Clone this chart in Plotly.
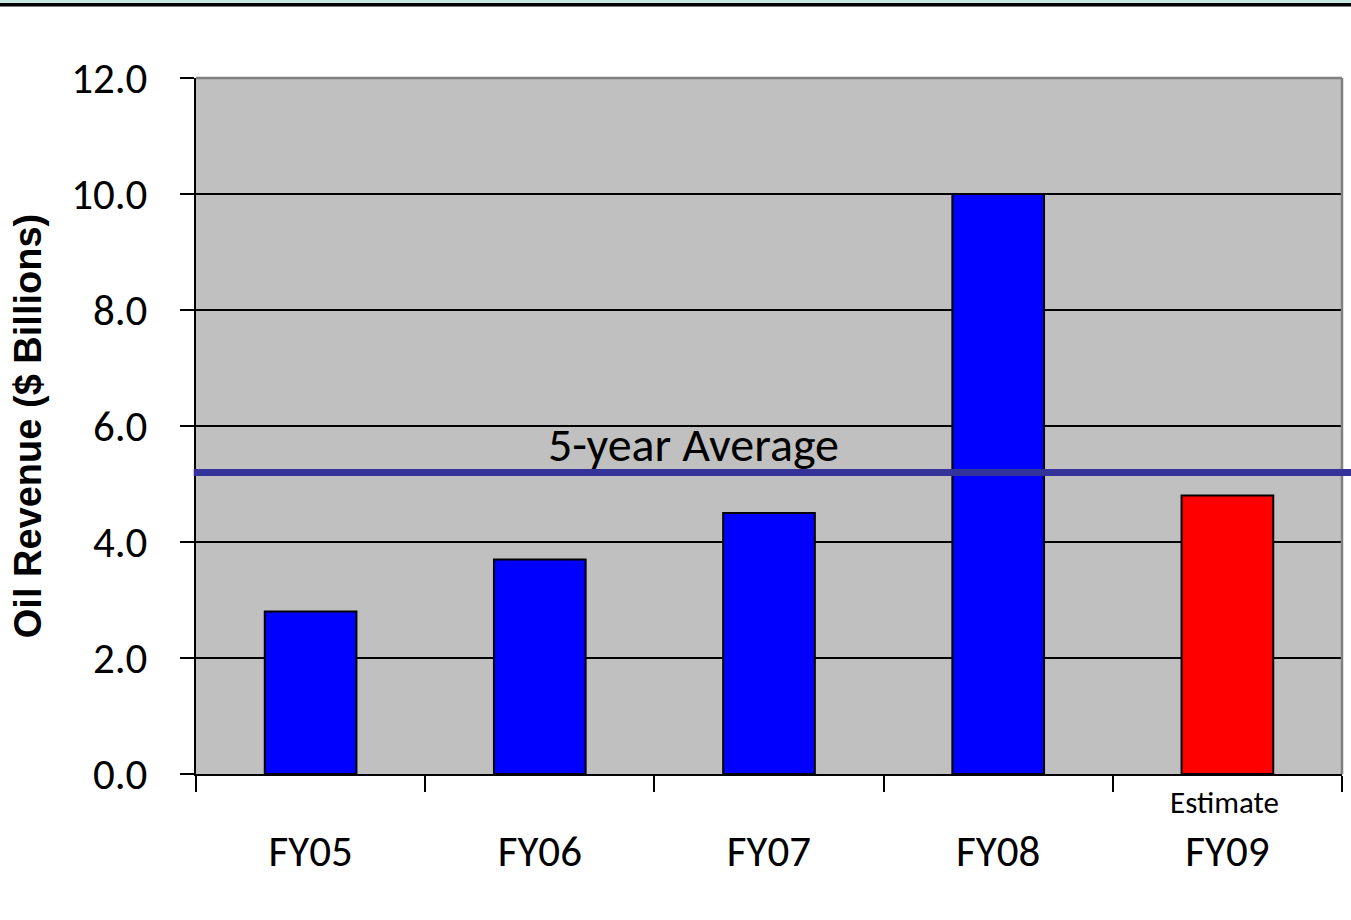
import plotly.graph_objects as go

categories = ["FY05", "FY06", "FY07", "FY08", "FY09"]
revenue = [2.8, 3.7, 4.5, 10.0, 4.8]
bar_colors = ["#0000FF", "#0000FF", "#0000FF", "#0000FF", "#FF0000"]
average_value = 5.2
average_label = "5-year Average"
estimate_label = "Estimate"
y_ticks = [0, 2, 4, 6, 8, 10, 12]

TEXT_FONT = "Carlito, Calibri, 'Liberation Sans', Arial, sans-serif"
NUM_FONT = "Carlito, Calibri, 'Liberation Sans Narrow', 'Liberation Sans', sans-serif"

fig = go.Figure()
fig.add_trace(go.Bar(
    x=categories, y=revenue, width=0.4,
    marker=dict(color=bar_colors, line=dict(color="black", width=2)),
    showlegend=False, hoverinfo="x+y",
))

fig.update_layout(
    width=1351, height=920,
    margin=dict(l=196, r=9, t=78, b=146),
    paper_bgcolor="white", plot_bgcolor="#C0C0C0",
    bargap=0.6,
    xaxis=dict(
        type="category", range=[-0.5, 4.5],
        showgrid=False, showline=True, linecolor="black", linewidth=2,
        ticks="outside", tickson="boundaries", ticklen=16, tickwidth=1.5, tickcolor="black",
        tickfont=dict(family=NUM_FONT, size=43, color="black"),
        ticklabelstandoff=38,
    ),
    yaxis=dict(
        range=[0, 12], tickvals=y_ticks, tickformat=".1f",
        showgrid=True, gridcolor="black", gridwidth=2,
        zeroline=False,
        showline=True, linecolor="black", linewidth=2,
        ticks="outside", ticklen=14, tickwidth=2, tickcolor="black",
        tickfont=dict(family=NUM_FONT, size=43, color="black"),
        ticklabelstandoff=24,
        title=dict(text="<b>Oil Revenue ($ Billions)</b>",
                   font=dict(family="'Liberation Sans', Arial, sans-serif", size=38, color="black"),
                   standoff=18),
    ),
    shapes=[
        # plot frame top & right (gray)
        dict(type="line", xref="paper", yref="paper", x0=0, x1=1, y0=1, y1=1,
             line=dict(color="#808080", width=2.5), layer="above"),
        dict(type="line", xref="paper", yref="paper", x0=1, x1=1, y0=0, y1=1,
             line=dict(color="#808080", width=2.5), layer="above"),
        # 5-year average line
        dict(type="line", xref="paper", yref="y", x0=-0.002, x1=1.01,
             y0=average_value, y1=average_value,
             line=dict(color="#333399", width=7), layer="above"),
        # page header band
        dict(type="rect", xref="paper", yref="paper", x0=-0.2, x1=1.02, y0=1.1078, y1=1.14,
             fillcolor="#C6E8E0", line=dict(width=0), layer="above"),
        dict(type="rect", xref="paper", yref="paper", x0=-0.2, x1=1.02, y0=1.1027, y1=1.1078,
             fillcolor="black", line=dict(width=0), layer="above"),
    ],
    annotations=[
        dict(text=average_label, xref="paper", yref="y", x=0.434, y=average_value,
             xanchor="center", yanchor="bottom", yshift=-4, showarrow=False,
             font=dict(family=TEXT_FONT, size=48, color="black")),
        dict(text=estimate_label, xref="x", yref="paper", x=categories[-1], y=-0.04,
             xanchor="center", yanchor="middle", xshift=-3, showarrow=False,
             font=dict(family=TEXT_FONT, size=31, color="black")),
    ],
)

fig.write_html("out.html", config={"displayModeBar": False},
               post_script="document.body.style.margin='0px';")
